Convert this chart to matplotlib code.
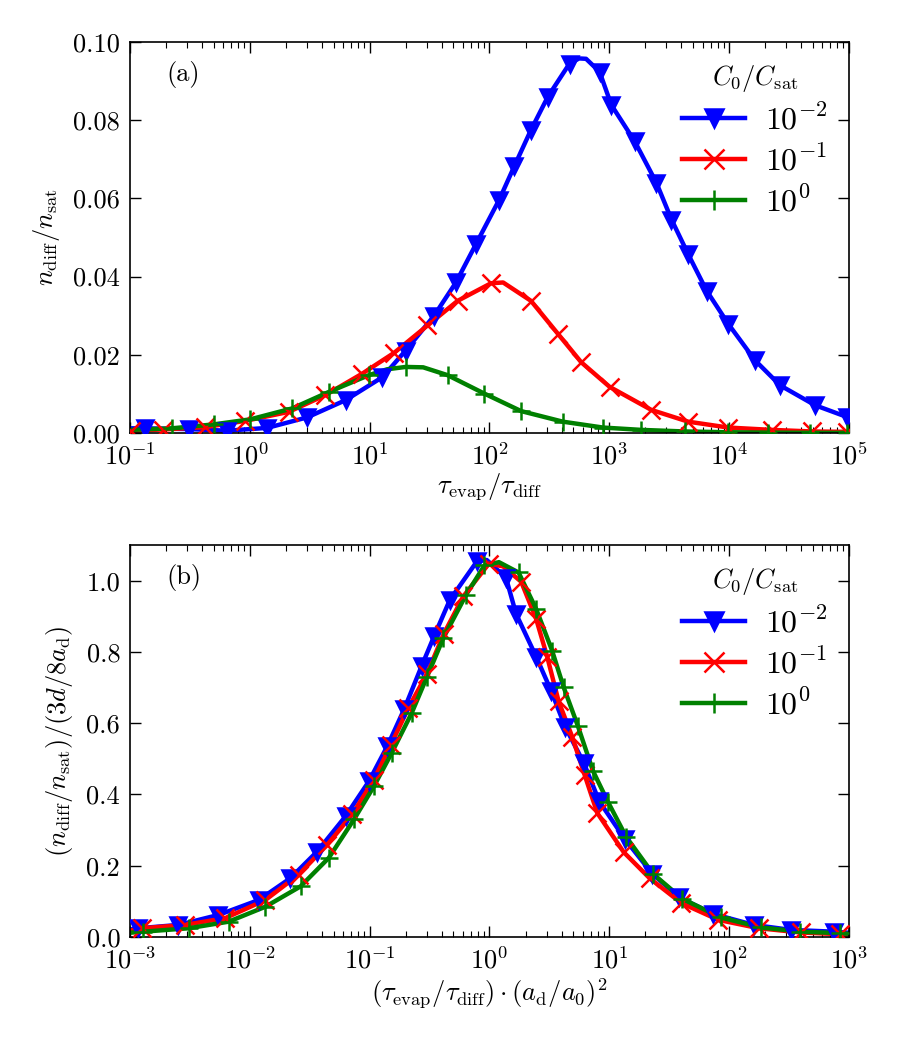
import numpy as np
import matplotlib
matplotlib.use("Agg")
import matplotlib.pyplot as plt
from matplotlib.ticker import NullFormatter, FixedLocator, LogLocator

plt.rcParams['font.family'] = 'serif'
plt.rcParams['font.serif'] = ['cmr10', 'DejaVu Serif']
plt.rcParams['mathtext.fontset'] = 'cm'
plt.rcParams['axes.formatter.use_mathtext'] = True
plt.rcParams['axes.unicode_minus'] = False
plt.rcParams['font.size'] = 19

# ---------------- Panel (a) data ----------------
a_blue_x = [0.1335, 0.308, 0.644, 1.393, 3.01, 6.30, 12.8, 20.0, 34.5, 52.5, 77.1, 120.8, 161, 222, 307,
            466, 829, 1040, 1629, 2472, 3304, 4557, 6486, 9840, 16440, 26600, 52200, 96200]
a_blue_y = [0.0012, 0.0010, 0.0006, 0.0013, 0.0040, 0.0084, 0.0143, 0.0211, 0.0300, 0.0385, 0.0483, 0.0597,
            0.0682, 0.0775, 0.0860, 0.0945, 0.0924, 0.0839, 0.0746, 0.0640, 0.0546, 0.0457, 0.0364, 0.0279,
            0.0186, 0.0122, 0.0071, 0.0041]
a_red_x = [0.103, 0.190, 0.425, 0.916, 2.11, 4.28, 8.69, 16.0, 30.4, 54.2, 103, 222, 372, 583, 1007, 2246,
           4557, 9840, 22700, 49000, 96200]
a_red_y = [0.0006, 0.0009, 0.0015, 0.0031, 0.0054, 0.0097, 0.0152, 0.0205, 0.0275, 0.0338, 0.0383, 0.0338,
           0.0254, 0.0181, 0.0118, 0.0059, 0.0029, 0.0014, 0.0008, 0.0004, 0.0003]
a_green_x = [0.223, 0.498, 1.01, 2.26, 4.56, 9.87, 20.0, 44.7, 90.4, 184, 410, 885, 1853, 4245, 9840, 21300,
             47200, 96200]
a_green_y = [0.0012, 0.0022, 0.0035, 0.0063, 0.0105, 0.0148, 0.0169, 0.0148, 0.0101, 0.0056, 0.0029, 0.0014,
             0.0008, 0.0004, 0.0002, 0.0001, 0.00005, 0.00003]
# extra curve-only points (ends / peaks)
a_blue_extra_x = [0.1, 560, 640, 1e5]
a_blue_extra_y = [0.0012, 0.0958, 0.0957, 0.0038]
a_red_extra_x = [0.1, 130, 1e5]
a_red_extra_y = [0.0006, 0.0385, 0.0003]
a_green_extra_x = [0.1, 14, 28, 1e5]
a_green_extra_y = [0.0008, 0.0163, 0.0168, 0.00003]

# ---------------- Panel (b) data ----------------
b_blue_x = [0.00117, 0.00254, 0.00548, 0.0119, 0.0218, 0.0365, 0.0630, 0.0986, 0.1406, 0.194, 0.272, 0.345,
            0.467, 0.785, 1.374, 1.667, 2.45, 3.27, 4.28, 6.12, 8.24, 13.4, 22.9, 38.5, 73.5, 160, 327, 745]
b_blue_y = [0.0245, 0.034, 0.062, 0.104, 0.165, 0.240, 0.339, 0.437, 0.536, 0.639, 0.761, 0.844, 0.946,
            1.054, 1.008, 0.907, 0.787, 0.691, 0.590, 0.489, 0.381, 0.276, 0.177, 0.111, 0.065, 0.034,
            0.020, 0.015]
b_red_x = [0.00125, 0.00288, 0.00624, 0.0135, 0.0256, 0.0443, 0.0716, 0.1086, 0.150, 0.210, 0.300, 0.416,
           0.605, 0.99, 1.84, 2.45, 3.03, 3.78, 4.90, 6.21, 7.94, 13.2, 21.7, 40.0, 81.3, 178, 396, 841]
b_red_y = [0.0245, 0.034, 0.053, 0.104, 0.175, 0.259, 0.344, 0.442, 0.538, 0.642, 0.738, 0.851, 0.956,
           1.048, 0.997, 0.893, 0.787, 0.661, 0.562, 0.456, 0.348, 0.238, 0.165, 0.095, 0.048, 0.0245,
           0.0127, 0.008]
b_green_x = [0.00129, 0.00308, 0.00665, 0.0135, 0.0265, 0.0456, 0.074, 0.1086, 0.153, 0.224, 0.300, 0.412,
             0.635, 0.908, 1.75, 2.45, 3.33, 4.16, 5.47, 7.31, 9.75, 13.9, 23.2, 40.8, 84.9, 184, 392, 841]
b_green_y = [0.015, 0.0245, 0.043, 0.085, 0.142, 0.222, 0.330, 0.423, 0.517, 0.628, 0.729, 0.839, 0.959,
             1.043, 1.023, 0.921, 0.804, 0.701, 0.592, 0.466, 0.379, 0.280, 0.177, 0.107, 0.055, 0.027,
             0.015, 0.011]
b_blue_extra_x = [1e-3, 0.95, 1e3]
b_blue_extra_y = [0.021, 1.058, 0.012]
b_red_extra_x = [1e-3, 1.3, 1e3]
b_red_extra_y = [0.018, 1.04, 0.007]
b_green_extra_x = [1e-3, 1.2, 1e3]
b_green_extra_y = [0.012, 1.052, 0.009]

a_xticks = [1e-1, 1e0, 1e1, 1e2, 1e3, 1e4, 1e5]
b_xticks = [1e-3, 1e-2, 1e-1, 1e0, 1e1, 1e2, 1e3]
a_yticks = [0.0, 0.02, 0.04, 0.06, 0.08, 0.10]
a_yticklabels = ['0.00', '0.02', '0.04', '0.06', '0.08', '0.10']
b_yticks = [0.0, 0.2, 0.4, 0.6, 0.8, 1.0]
b_yticklabels = ['0.0', '0.2', '0.4', '0.6', '0.8', '1.0']

legend_labels = [r'$10^{-2}$', r'$10^{-1}$', r'$10^{0}$']
colors = ['#0000ff', '#ff0000', '#008000']
markers = ['v', 'x', '+']


def curve(mx, my, ex, ey):
    x = np.concatenate([mx, ex])
    y = np.concatenate([my, ey])
    o = np.argsort(x)
    return x[o], y[o]


fig = plt.figure(figsize=(9, 10.5), dpi=100)
ax_a = fig.add_axes([0.1444, 0.5876, 0.7989, 0.3724])
ax_b = fig.add_axes([0.1444, 0.1076, 0.7989, 0.3733])

panels = [
    (ax_a, a_xticks, [(a_blue_x, a_blue_y, a_blue_extra_x, a_blue_extra_y),
                      (a_red_x, a_red_y, a_red_extra_x, a_red_extra_y),
                      (a_green_x, a_green_y, a_green_extra_x, a_green_extra_y)]),
    (ax_b, b_xticks, [(b_blue_x, b_blue_y, b_blue_extra_x, b_blue_extra_y),
                      (b_red_x, b_red_y, b_red_extra_x, b_red_extra_y),
                      (b_green_x, b_green_y, b_green_extra_x, b_green_extra_y)]),
]

LW = 3.2
for ax, xt, series in panels:
    handles = []
    for (mx, my, ex, ey), c, m, lab in zip(series, colors, markers, legend_labels):
        cx, cy = curve(mx, my, ex, ey)
        ax.plot(cx, cy, '-', color=c, lw=LW, zorder=2, solid_joinstyle='round')
        ms = 12 if m == 'v' else 13
        ax.plot(mx, my, ls='none', marker=m, color=c, ms=ms, mew=1.8, zorder=3)
        h, = ax.plot([], [], '-', color=c, lw=LW, marker=m, ms=ms + 1, mew=1.8, label=lab)
        handles.append(h)
    ax.set_xscale('log')
    ax.set_xlim(xt[0], xt[-1])
    ax.xaxis.set_major_locator(FixedLocator(xt))
    minors = [k * t for t in xt[:-1] for k in range(2, 10)]
    ax.xaxis.set_minor_locator(FixedLocator(minors))
    ax.xaxis.set_minor_formatter(NullFormatter())
    ax.tick_params(which='both', direction='in', top=True, right=True, labelsize=19)
    ax.tick_params(which='major', length=8, width=1, pad=7)
    ax.tick_params(which='minor', length=4, width=0.8)
    for sp in ax.spines.values():
        sp.set_linewidth(1.2)
    ax.legend(handles=handles, title=r'$C_0/C_{\rm sat}$', loc='upper right', frameon=False,
              prop={'size': 23}, title_fontsize=19, handlelength=1.95, handletextpad=0.65,
              labelspacing=0.3, borderaxespad=0.25, borderpad=0.4)

ax_a.set_ylim(0, 0.1)
ax_a.set_yticks(a_yticks)
ax_a.set_yticklabels(a_yticklabels)
ax_a.set_xlabel(r'$\tau_{\rm evap}/\tau_{\rm diff}$', fontsize=19, labelpad=1)
ax_a.set_ylabel(r'$n_{\rm diff}/n_{\rm sat}$', fontsize=19, labelpad=8)
ax_a.text(0.051, 0.916, '(a)', transform=ax_a.transAxes, fontsize=19, va='center', ha='left')

ax_b.set_ylim(0, 1.1)
ax_b.set_yticks(b_yticks)
ax_b.set_yticklabels(b_yticklabels)
ax_b.set_xlabel(r'$(\tau_{\rm evap}/\tau_{\rm diff})\cdot(a_{\rm d}/a_0)^2$', fontsize=19, labelpad=2)
ax_b.set_ylabel(r'$(n_{\rm diff}/n_{\rm sat})/(3d/8a_{\rm d})$', fontsize=19, labelpad=8)
ax_b.text(0.051, 0.916, '(b)', transform=ax_b.transAxes, fontsize=19, va='center', ha='left')

fig.savefig('out.png', dpi=100)
